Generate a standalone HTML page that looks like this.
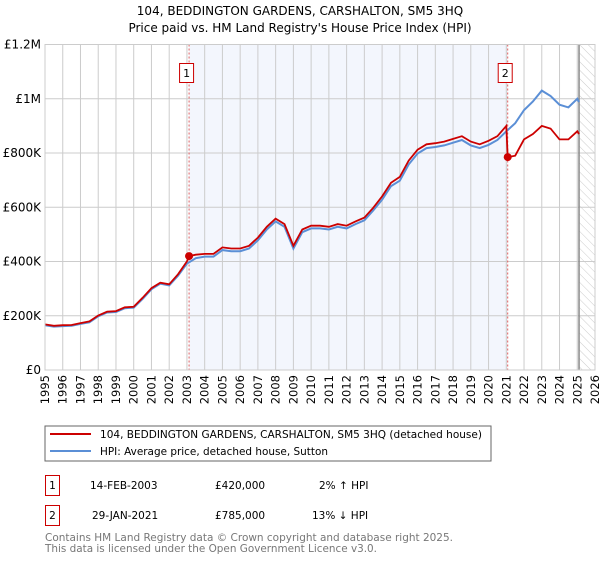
<!DOCTYPE html>
<html><head><meta charset="utf-8"><style>
body{margin:0;background:#fff;}
svg{font-family:"DejaVu Sans","Liberation Sans",sans-serif;}
</style></head><body>
<svg id="c" width="600" height="560" xmlns="http://www.w3.org/2000/svg">
<defs><pattern id="hatch" width="6" height="6" patternUnits="userSpaceOnUse" patternTransform="rotate(-45)"><line x1="0" y1="0" x2="0" y2="6" stroke="#ccc" stroke-width="1"/></pattern></defs>
<text x="300" y="15" text-anchor="middle" font-size="12">104, BEDDINGTON GARDENS, CARSHALTON, SM5 3HQ</text>
<text x="300" y="32" text-anchor="middle" font-size="12">Price paid vs. HM Land Registry's House Price Index (HPI)</text>
<g id="plot"></g>
<rect x="45" y="426" width="446" height="35" fill="#fff" stroke="#666"/>
<line x1="50" y1="434" x2="91" y2="434" stroke="#cc0000" stroke-width="2"/>
<text x="100" y="438" font-size="10.5" textLength="382" lengthAdjust="spacingAndGlyphs">104, BEDDINGTON GARDENS, CARSHALTON, SM5 3HQ (detached house)</text>
<line x1="50" y1="451" x2="91" y2="451" stroke="#5b8fd6" stroke-width="2"/>
<text x="100" y="455" font-size="10.5" textLength="228" lengthAdjust="spacingAndGlyphs">HPI: Average price, detached house, Sutton</text>
<g font-size="10.5">
<rect x="45.5" y="475.5" width="14" height="20" fill="none" stroke="#cc0000"/>
<text x="52.5" y="489" text-anchor="middle">1</text>
<text x="90" y="489">14-FEB-2003</text><text x="215" y="489">£420,000</text><text x="319" y="489">2% ↑ HPI</text>
<rect x="45.5" y="505.5" width="14" height="20" fill="none" stroke="#cc0000"/>
<text x="52.5" y="519" text-anchor="middle">2</text>
<text x="92" y="519">29-JAN-2021</text><text x="215" y="519">£785,000</text><text x="312" y="519">13% ↓ HPI</text>
</g>
<text x="45" y="541" font-size="10.5" fill="#777" textLength="408" lengthAdjust="spacingAndGlyphs">Contains HM Land Registry data © Crown copyright and database right 2025.</text>
<text x="45" y="552" font-size="10.5" fill="#777" textLength="332" lengthAdjust="spacingAndGlyphs">This data is licensed under the Open Government Licence v3.0.</text>
</svg>
<script>
const years=[1995,1995.5,1996,1996.5,1997,1997.5,1998,1998.5,1999,1999.5,2000,2000.5,2001,2001.5,2002,2002.5,2003,2003.5,2004,2004.5,2005,2005.5,2006,2006.5,2007,2007.5,2008,2008.5,2009,2009.5,2010,2010.5,2011,2011.5,2012,2012.5,2013,2013.5,2014,2014.5,2015,2015.5,2016,2016.5,2017,2017.5,2018,2018.5,2019,2019.5,2020,2020.5,2021,2021.5,2022,2022.5,2023,2023.5,2024,2024.5,2025,2025.1];
const hpi=[165,160,162,163,170,176,198,212,214,228,230,262,298,318,312,348,392,412,418,418,442,438,438,448,478,518,548,528,448,508,522,522,518,528,522,538,552,588,628,678,698,758,798,818,822,828,838,848,828,818,830,848,880,910,958,990,1030,1010,978,968,1000,988];
const redYears=[1995,1995.5,1996,1996.5,1997,1997.5,1998,1998.5,1999,1999.5,2000,2000.5,2001,2001.5,2002,2002.5,2003,2003.12,2003.5,2004,2004.5,2005,2005.5,2006,2006.5,2007,2007.5,2008,2008.5,2009,2009.5,2010,2010.5,2011,2011.5,2012,2012.5,2013,2013.5,2014,2014.5,2015,2015.5,2016,2016.5,2017,2017.5,2018,2018.5,2019,2019.5,2020,2020.5,2021,2021.08,2021.5,2022,2022.5,2023,2023.5,2024,2024.5,2025,2025.1];
const red=[168,163,165,166,173,179,201,215,217,231,233,266,302,322,316,353,400,420,425,428,428,452,448,448,458,488,528,558,538,458,518,532,532,528,538,532,548,562,598,640,690,712,772,812,832,836,842,852,862,842,832,845,862,900,785,790,850,870,900,890,850,850,880,870];
const sales=[[2003.12,420],[2021.08,785]];
const yTicks=[0,200,400,600,800,1000,1200];
const yTickLabels=["£0","£200K","£400K","£600K","£800K","£1M","£1.2M"];
const xTicks=[1995,1996,1997,1998,1999,2000,2001,2002,2003,2004,2005,2006,2007,2008,2009,2010,2011,2012,2013,2014,2015,2016,2017,2018,2019,2020,2021,2022,2023,2024,2025,2026];
const X0=45,X1=595,Y0=370,Y1=44.5;
const xs=v=>X0+(v-1995)/(2026-1995)*(X1-X0);
const ys=v=>Y0-v/1200*(Y0-Y1);
const g=document.getElementById('plot');
const NS='http://www.w3.org/2000/svg';
function mk(t,a,p){const e=document.createElementNS(NS,t);for(const k in a)e.setAttribute(k,a[k]);(p||g).appendChild(e);return e;}
let e;
e=mk('rect',{x:X0,y:Y1,width:X1-X0,height:Y0-Y1,fill:'#fff'});
e=mk('rect',{x:xs(sales[0][0]),y:Y1,width:xs(sales[1][0])-xs(sales[0][0]),height:Y0-Y1,fill:'#f0f4fd',opacity:0.8});


e=mk('rect',{x:xs(2025.1),y:Y1,width:X1-xs(2025.1),height:Y0-Y1,fill:'url(#hatch)'});


xTicks.forEach(t=>{
 e=mk('line',{x1:xs(t),x2:xs(t),y1:Y1,y2:Y0,stroke:'#ccc'});
 
 
 e=mk('text',{x:0,y:0,'font-size':11.5,'text-anchor':'end',transform:`translate(${xs(t)+4},${Y0+5}) rotate(-90)`});
 e.textContent=t;
 
 
});
yTicks.forEach((t,i)=>{
 e=mk('line',{x1:X0,x2:X1,y1:ys(t),y2:ys(t),stroke:'#ccc'});
 
 
 e=mk('text',{x:X0-4,y:ys(t)+4,'font-size':12,'text-anchor':'end'});
 e.textContent=yTickLabels[i];
 
 
});
e=mk('line',{x1:xs(2025.1),x2:xs(2025.1),y1:Y1,y2:Y0,stroke:'#888','stroke-width':1.5});


sales.forEach((s,i)=>{
 e=mk('line',{x1:xs(s[0]),x2:xs(s[0]),y1:Y1,y2:Y0,stroke:'#e06060','stroke-dasharray':'2,2'});
 
 
 e=mk('rect',{x:xs(s[0])-9.5,y:63.5,width:14,height:19,fill:'#fff',stroke:'#cc0000'});
 
 
 e=mk('text',{x:xs(s[0])-2.5,y:77,'font-size':11,'text-anchor':'middle'});
 e.textContent=String(i+1);
 
 
});
e=mk('path',{d:years.map((y,i)=>(i?'L':'M')+xs(y).toFixed(1)+','+ys(hpi[i]).toFixed(1)).join(''),fill:'none',stroke:'#5b8fd6','stroke-width':2});


e=mk('path',{d:redYears.map((y,i)=>(i?'L':'M')+xs(y).toFixed(1)+','+ys(red[i]).toFixed(1)).join(''),fill:'none',stroke:'#cc0000','stroke-width':1.8});


sales.forEach(s=>{
 e=mk('circle',{cx:xs(s[0]),cy:ys(s[1]),r:4,fill:'#cc0000'});
 
 
});
e=mk('rect',{x:X0,y:Y1,width:X1-X0,height:Y0-Y1,fill:'none',stroke:'#ccc'});
</script>
</body></html>
